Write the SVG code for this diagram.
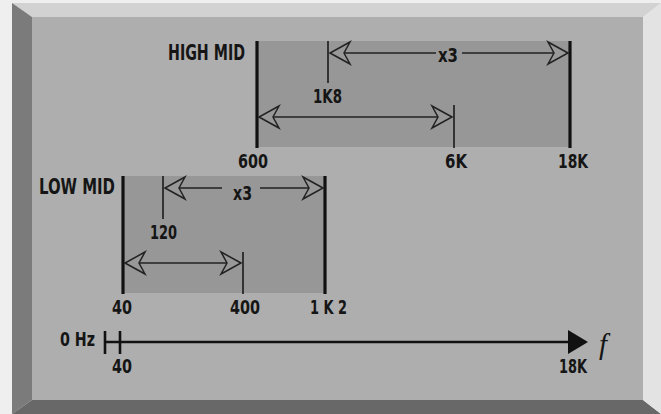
<svg xmlns="http://www.w3.org/2000/svg" width="661" height="414" viewBox="0 0 661 414">
<style>
.lbl{font-family:"Liberation Sans Narrow","DejaVu Sans Condensed","Liberation Sans",sans-serif;font-weight:bold;font-stretch:condensed;fill:#151515}
.big{font-size:21px}
.num{font-size:19.5px}
.thick{stroke:#111;stroke-width:3.2;fill:none}
.thin{stroke:#222;stroke-width:1.7;fill:none}
.arr{stroke:#222;stroke-width:1.6;fill:none;marker-start:url(#ah);marker-end:url(#ah)}
.band{fill:#979797}
</style>
<defs>
<marker id="ah" markerUnits="userSpaceOnUse" viewBox="-23 -13 25 26" markerWidth="25" markerHeight="26" refX="0" refY="0" orient="auto-start-reverse">
<path d="M0,0 L-20,-11 L-14,0 L-20,11 Z" fill="#989898" stroke="#222" stroke-width="1.5" stroke-linejoin="miter"/>
</marker>
</defs>
<g id="frame">
<rect x="0" y="0" width="661" height="414" fill="#efefef"/>
<polygon points="12,3 661,3 643,17 32,17" fill="#d2d2d2"/>
<polygon points="12,3 32,17 32,400 12,414" fill="#7b7b7b"/>
<polygon points="12,414 32,400 643,400 661,414" fill="#686868"/>
<polygon points="661,3 661,414 643,400 643,17" fill="#e3e3e3"/>
<rect x="32" y="17" width="611" height="383" fill="#aeaeae"/>
</g>
<g id="high-mid">
<rect class="band" x="257" y="41" width="313" height="106"/>
<line class="thick" x1="257" y1="41" x2="257" y2="148"/>
<line class="thick" x1="570" y1="41" x2="570" y2="148"/>
<line class="thin" x1="328" y1="41" x2="328" y2="83"/>
<line class="thin" x1="454" y1="105" x2="454" y2="148"/>
<text class="lbl big" x="168" y="60" textLength="77" lengthAdjust="spacingAndGlyphs">HIGH MID</text>
<text class="lbl num" x="313" y="103" textLength="29" lengthAdjust="spacingAndGlyphs">1K8</text>
<text class="lbl num" x="438" y="62" textLength="20" lengthAdjust="spacingAndGlyphs">x3</text>
<text class="lbl num" x="238" y="168" textLength="30" lengthAdjust="spacingAndGlyphs">600</text>
<text class="lbl num" x="445" y="168" textLength="22" lengthAdjust="spacingAndGlyphs">6K</text>
<text class="lbl num" x="558" y="168" textLength="30" lengthAdjust="spacingAndGlyphs">18K</text>
</g>
<g id="low-mid">
<rect class="band" x="123" y="176" width="202" height="117"/>
<line class="thick" x1="123" y1="176" x2="123" y2="294"/>
<line class="thick" x1="325" y1="176" x2="325" y2="294"/>
<line class="thin" x1="163" y1="176" x2="163" y2="219"/>
<line class="thin" x1="243" y1="252" x2="243" y2="294"/>
<text class="lbl big" x="39" y="194" textLength="76" lengthAdjust="spacingAndGlyphs">LOW MID</text>
<text class="lbl num" x="233" y="200" textLength="19" lengthAdjust="spacingAndGlyphs">x3</text>
<text class="lbl num" x="150" y="239" textLength="27" lengthAdjust="spacingAndGlyphs">120</text>
<text class="lbl num" x="112" y="314" textLength="20" lengthAdjust="spacingAndGlyphs">40</text>
<text class="lbl num" x="230" y="314" textLength="30" lengthAdjust="spacingAndGlyphs">400</text>
<text class="lbl num" x="310" y="314" textLength="37" lengthAdjust="spacingAndGlyphs">1 K 2</text>
</g>
<g id="axis">
<line x1="105" y1="342" x2="570" y2="342" stroke="#111" stroke-width="2.6"/>
<line x1="105" y1="331" x2="105" y2="354" stroke="#111" stroke-width="2.6"/>
<line x1="120" y1="331" x2="120" y2="354" stroke="#111" stroke-width="2.6"/>
<polygon points="568,330 588,342 568,354" fill="#111"/>
<text class="lbl num" x="60" y="346" textLength="35" lengthAdjust="spacingAndGlyphs">0 Hz</text>
<text class="lbl num" x="112" y="373" textLength="20" lengthAdjust="spacingAndGlyphs">40</text>
<text class="lbl num" x="559" y="373" textLength="28" lengthAdjust="spacingAndGlyphs">18K</text>
<text x="599" y="354" font-family="Liberation Serif,serif" font-style="italic" font-size="29" fill="#151515">f</text>
</g>
<g id="connectors">
<path class="arr" d="M330,53 H436 M462,53 H568"/>
<path class="arr" d="M259,117 H452"/>
<path class="arr" d="M165,188 H222 M260,188 H323"/>
<path class="arr" d="M125,263 H241"/>
</g>
</svg>
